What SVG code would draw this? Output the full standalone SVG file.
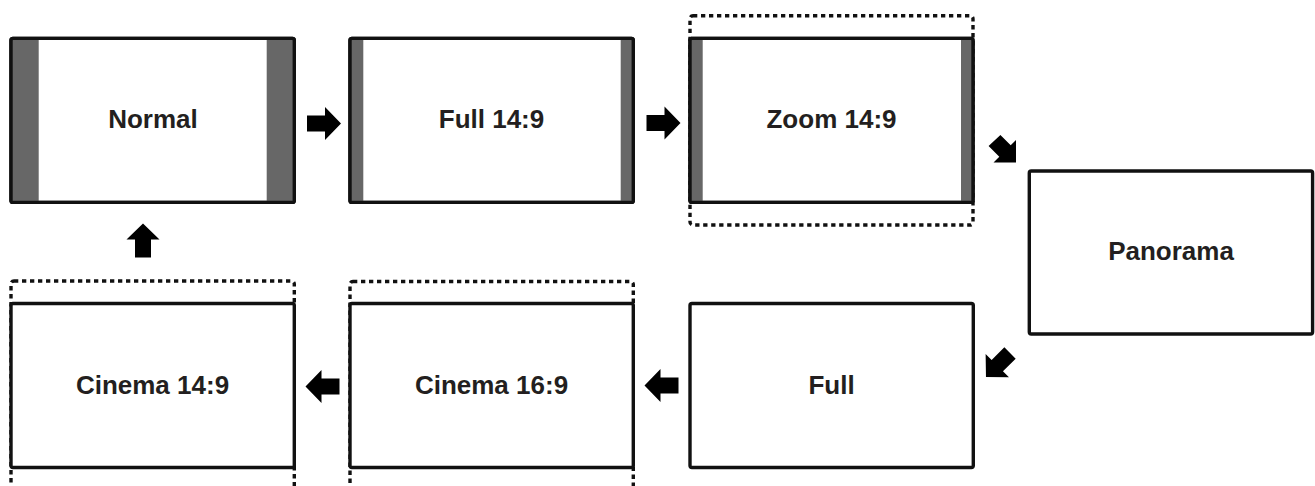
<svg xmlns="http://www.w3.org/2000/svg" width="1315" height="486" viewBox="0 0 1315 486">
  <defs>
    <style>
      .box { fill: #ffffff; stroke: #111111; stroke-width: 3.4; }
      .frame { fill: none; stroke: #111111; stroke-width: 3.4; }
      .dots { fill: none; stroke: #111111; stroke-width: 3.4; stroke-dasharray: 4.3 3.7; }
      .bar { fill: #676767; }
      .label { font-family: "Liberation Sans", Arial, sans-serif; font-weight: bold; font-size: 26px; fill: #231f20; text-anchor: middle; }
      .arrow { fill: #000000; }
    </style>
    <path id="arr" d="M-17,-8 H1 V-16.5 L17,0 L1,16.5 V8 H-17 Z"/>
  </defs>
  <rect width="1315" height="486" fill="#ffffff"/>

  <g id="node-normal">
    <rect class="box" x="11" y="38.4" width="283.3" height="164" rx="2"/>
    <rect class="bar" x="11" y="38.4" width="27.7" height="164"/>
    <rect class="bar" x="266.7" y="38.4" width="27.6" height="164"/>
    <rect class="frame" x="11" y="38.4" width="283.3" height="164" rx="2"/>
    <text class="label" x="153" y="128">Normal</text>
  </g>

  <g id="node-full149">
    <rect class="box" x="350" y="38.4" width="283.3" height="164" rx="2"/>
    <rect class="bar" x="350" y="38.4" width="13.3" height="164"/>
    <rect class="bar" x="620.7" y="38.4" width="12.6" height="164"/>
    <rect class="frame" x="350" y="38.4" width="283.3" height="164" rx="2"/>
    <text class="label" x="491.5" y="128">Full 14:9</text>
  </g>

  <g id="node-zoom149">
    <rect class="dots" x="690" y="15.7" width="283" height="209.3" rx="3"/>
    <rect class="box" x="690" y="38.4" width="283" height="164" rx="2"/>
    <rect class="bar" x="690" y="38.4" width="12.7" height="164"/>
    <rect class="bar" x="961" y="38.4" width="12" height="164"/>
    <rect class="frame" x="690" y="38.4" width="283" height="164" rx="2"/>
    <text class="label" x="831.5" y="128">Zoom 14:9</text>
  </g>

  <g id="node-panorama">
    <rect class="box" x="1029.3" y="171" width="283.3" height="163" rx="2"/>
    <text class="label" x="1171" y="260">Panorama</text>
  </g>

  <g id="node-full">
    <rect class="box" x="690" y="303.5" width="283.3" height="164" rx="2"/>
    <text class="label" x="831.5" y="393.5">Full</text>
  </g>

  <g id="node-cinema169">
    <rect class="dots" x="350" y="281.5" width="283.3" height="209" rx="3"/>
    <rect class="box" x="350" y="303.5" width="283.3" height="164" rx="2"/>
    <text class="label" x="491.5" y="393.5">Cinema 16:9</text>
  </g>

  <g id="node-cinema149">
    <rect class="dots" x="11" y="281" width="283.3" height="209" rx="3"/>
    <rect class="box" x="11" y="303.5" width="283.3" height="164" rx="2"/>
    <text class="label" x="152.5" y="393.5">Cinema 14:9</text>
  </g>

  <g id="connectors">
    <use class="arrow" href="#arr" transform="translate(324,123.5)"/>
    <use class="arrow" href="#arr" transform="translate(663.5,123)"/>
    <path class="arrow" d="M1000.4,135 L1010.7,145.3 L1016,140 L1016,162.5 L993.5,162.5 L999.3,156.7 L988.6,146 Z"/>
    <use class="arrow" href="#arr" transform="translate(998,365) rotate(135)"/>
    <use class="arrow" href="#arr" transform="translate(661.5,385.5) rotate(180)"/>
    <use class="arrow" href="#arr" transform="translate(322.5,386.5) rotate(180)"/>
    <use class="arrow" href="#arr" transform="translate(143,240.5) rotate(-90)"/>
  </g>
</svg>
